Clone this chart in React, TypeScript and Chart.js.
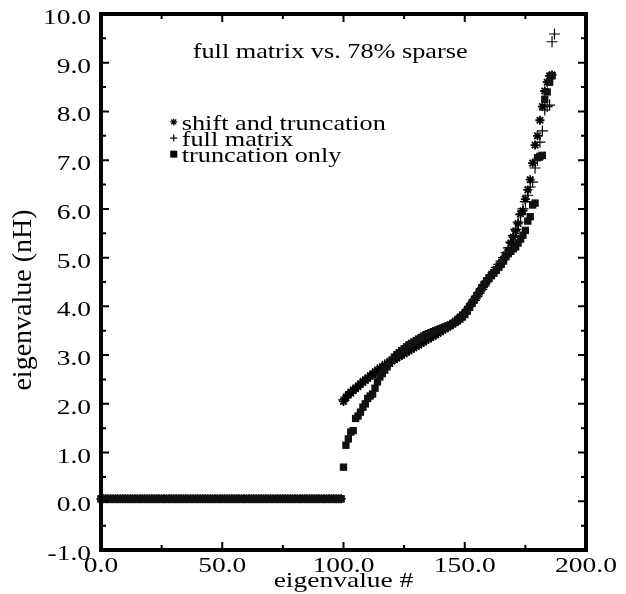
import React, { useEffect, useRef } from "react";
import { Chart, registerables } from "chart.js";
Chart.register(...registerables);

// ---------- DATA ----------
// eigenvalue index where each segment starts
const FLAT_START = 0;
const RISE_START = 100;

// shift and truncation: zero eigenvalues (index 0..99)
const shiftFlat = [
  0.05, 0.05, 0.05, 0.05, 0.05, 0.05, 0.05, 0.05, 0.05, 0.05, 0.05, 0.05, 0.05, 0.05, 0.05, 0.05, 0.05, 0.05, 0.05, 0.05,
  0.05, 0.05, 0.05, 0.05, 0.05, 0.05, 0.05, 0.05, 0.05, 0.05, 0.05, 0.05, 0.05, 0.05, 0.05, 0.05, 0.05, 0.05, 0.05, 0.05,
  0.05, 0.05, 0.05, 0.05, 0.05, 0.05, 0.05, 0.05, 0.05, 0.05, 0.05, 0.05, 0.05, 0.05, 0.05, 0.05, 0.05, 0.05, 0.05, 0.05,
  0.05, 0.05, 0.05, 0.05, 0.05, 0.05, 0.05, 0.05, 0.05, 0.05, 0.05, 0.05, 0.05, 0.05, 0.05, 0.05, 0.05, 0.05, 0.05, 0.05,
  0.05, 0.05, 0.05, 0.05, 0.05, 0.05, 0.05, 0.05, 0.05, 0.05, 0.05, 0.05, 0.05, 0.05, 0.05, 0.05, 0.05, 0.05, 0.05, 0.05,
];
// shift and truncation: index 100..186
const shiftRise = [
  2.05, 2.12, 2.18, 2.22, 2.27, 2.31, 2.35, 2.40, 2.44, 2.48,
  2.52, 2.56, 2.60, 2.64, 2.68, 2.72, 2.75, 2.78, 2.82, 2.85,
  2.88, 2.91, 2.94, 2.97, 3.00, 3.03, 3.06, 3.09, 3.12, 3.15,
  3.18, 3.21, 3.24, 3.27, 3.30, 3.33, 3.36, 3.39, 3.42, 3.45,
  3.48, 3.51, 3.54, 3.57, 3.60, 3.64, 3.68, 3.72, 3.76, 3.80,
  3.85, 3.92, 4.00, 4.08, 4.15, 4.22, 4.30, 4.38, 4.45, 4.52,
  4.58, 4.64, 4.70, 4.75, 4.80, 4.88, 4.96, 5.06, 5.15, 5.30,
  5.42, 5.55, 5.70, 5.90, 5.96, 6.20, 6.39, 6.60, 6.94, 7.31,
  7.50, 7.82, 8.10, 8.42, 8.60, 8.73, 8.75,
];

// truncation only: zero eigenvalues (index 0..99)
const truncFlat = [
  0.05, 0.05, 0.05, 0.05, 0.05, 0.05, 0.05, 0.05, 0.05, 0.05, 0.05, 0.05, 0.05, 0.05, 0.05, 0.05, 0.05, 0.05, 0.05, 0.05,
  0.05, 0.05, 0.05, 0.05, 0.05, 0.05, 0.05, 0.05, 0.05, 0.05, 0.05, 0.05, 0.05, 0.05, 0.05, 0.05, 0.05, 0.05, 0.05, 0.05,
  0.05, 0.05, 0.05, 0.05, 0.05, 0.05, 0.05, 0.05, 0.05, 0.05, 0.05, 0.05, 0.05, 0.05, 0.05, 0.05, 0.05, 0.05, 0.05, 0.05,
  0.05, 0.05, 0.05, 0.05, 0.05, 0.05, 0.05, 0.05, 0.05, 0.05, 0.05, 0.05, 0.05, 0.05, 0.05, 0.05, 0.05, 0.05, 0.05, 0.05,
  0.05, 0.05, 0.05, 0.05, 0.05, 0.05, 0.05, 0.05, 0.05, 0.05, 0.05, 0.05, 0.05, 0.05, 0.05, 0.05, 0.05, 0.05, 0.05, 0.05,
];
// truncation only: index 100..186
const truncRise = [
  0.70, 1.15, 1.28, 1.42, 1.45, 1.70, 1.75, 1.83, 1.93, 2.00,
  2.11, 2.16, 2.20, 2.32, 2.45, 2.55, 2.62, 2.69, 2.76, 2.83,
  2.90, 2.96, 3.01, 3.05, 3.09, 3.13, 3.17, 3.21, 3.24, 3.27,
  3.30, 3.33, 3.36, 3.39, 3.42, 3.44, 3.46, 3.48, 3.50, 3.52,
  3.54, 3.56, 3.58, 3.60, 3.62, 3.64, 3.67, 3.70, 3.74, 3.78,
  3.83, 3.90, 3.98, 4.06, 4.14, 4.22, 4.30, 4.38, 4.45, 4.52,
  4.58, 4.63, 4.68, 4.74, 4.80, 4.86, 4.93, 5.02, 5.08, 5.13,
  5.18, 5.22, 5.30, 5.38, 5.46, 5.56, 5.75, 5.84, 6.08, 6.12,
  7.05, 7.08, 7.10, 8.25, 8.40, 8.60, 8.73,
];

// full matrix: index 100..187
const fullRise = [
  2.08, 2.14, 2.20, 2.25, 2.29, 2.33, 2.37, 2.42, 2.46, 2.50,
  2.54, 2.58, 2.62, 2.66, 2.70, 2.73, 2.77, 2.80, 2.83, 2.86,
  2.89, 2.92, 2.95, 2.98, 3.01, 3.04, 3.07, 3.10, 3.13, 3.16,
  3.19, 3.22, 3.25, 3.28, 3.31, 3.34, 3.37, 3.40, 3.43, 3.46,
  3.49, 3.52, 3.55, 3.58, 3.62, 3.66, 3.70, 3.74, 3.78, 3.83,
  3.88, 3.94, 4.00, 4.06, 4.12, 4.20, 4.27, 4.35, 4.42, 4.50,
  4.58, 4.65, 4.72, 4.80, 4.86, 4.93, 5.00, 5.10, 5.20, 5.32,
  5.45, 5.58, 5.73, 5.88, 6.00, 6.15, 6.28, 6.45, 6.55, 6.84,
  7.00, 7.37, 7.60, 8.03, 8.10, 8.13, 9.43, 9.59,
];

const xTickValues = [0, 50, 100, 150, 200];
const xTickLabels = ["0.0", "50.0", "100.0", "150.0", "200.0"];
const xMinorTicks = [25, 75, 125, 175];
const yTickValues = [-1, 0, 1, 2, 3, 4, 5, 6, 7, 8, 9, 10];
const yTickLabels = ["-1.0", "0.0", "1.0", "2.0", "3.0", "4.0", "5.0", "6.0", "7.0", "8.0", "9.0", "10.0"];
const yMinorTicks = [-0.5, 0.5, 1.5, 2.5, 3.5, 4.5, 5.5, 6.5, 7.5, 8.5, 9.5];

const seriesNames = ["shift and truncation", "full matrix", "truncation only"];
const titleText = "full matrix vs. 78% sparse";
const xTitle = "eigenvalue #";
const yTitle = "eigenvalue (nH)";

// ---------- STYLE ----------
const FONT_FAMILY = '"Liberation Serif"';
const STRETCH = 1.25;

function toPoints(vals: number[], start: number) {
  return vals.map((y, i) => ({ x: start + i, y }));
}

function stretchedText(ctx: CanvasRenderingContext2D, text: string, x: number, y: number, align: string, size: number) {
  ctx.save();
  ctx.font = `${size}px ${FONT_FAMILY}`;
  ctx.fillStyle = "#000";
  ctx.textBaseline = "alphabetic";
  const w = ctx.measureText(text).width * STRETCH;
  let left = x;
  if (align === "center") left = x - w / 2;
  else if (align === "right") left = x - w;
  ctx.translate(left, y);
  ctx.scale(STRETCH, 1);
  ctx.textAlign = "left";
  ctx.fillText(text, 0, 0);
  ctx.restore();
}

function drawAsterisk(ctx: CanvasRenderingContext2D, x: number, y: number, r: number) {
  ctx.beginPath();
  for (let k = 0; k < 4; k++) {
    const a = (k * Math.PI) / 4;
    ctx.moveTo(x - Math.cos(a) * r, y - Math.sin(a) * r);
    ctx.lineTo(x + Math.cos(a) * r, y + Math.sin(a) * r);
  }
  ctx.stroke();
}

const framePlugin = {
  id: "frame",
  afterDraw(chart: any) {
    const ctx: CanvasRenderingContext2D = chart.ctx;
    const { left, right, top, bottom } = chart.chartArea;
    const xs = chart.scales.x;
    const ys = chart.scales.y;
    ctx.save();
    ctx.strokeStyle = "#000";
    // ticks
    ctx.lineWidth = 2;
    const MAJ = 8, MIN = 5;
    ctx.beginPath();
    yTickValues.forEach((v) => {
      const p = ys.getPixelForValue(v);
      ctx.moveTo(left, p); ctx.lineTo(left + MAJ, p);
      ctx.moveTo(right, p); ctx.lineTo(right - MAJ, p);
    });
    yMinorTicks.forEach((v) => {
      const p = ys.getPixelForValue(v);
      ctx.moveTo(left, p); ctx.lineTo(left + MIN, p);
      ctx.moveTo(right, p); ctx.lineTo(right - MIN, p);
    });
    xTickValues.forEach((v) => {
      const p = xs.getPixelForValue(v);
      ctx.moveTo(p, bottom); ctx.lineTo(p, bottom - MAJ);
      ctx.moveTo(p, top); ctx.lineTo(p, top + MAJ);
    });
    xMinorTicks.forEach((v) => {
      const p = xs.getPixelForValue(v);
      ctx.moveTo(p, bottom); ctx.lineTo(p, bottom - MIN);
      ctx.moveTo(p, top); ctx.lineTo(p, top + MIN);
    });
    ctx.stroke();
    // frame
    ctx.lineWidth = 4;
    ctx.strokeRect(left, top, right - left, bottom - top);

    // tick labels
    yTickValues.forEach((v, i) => {
      const p = ys.getPixelForValue(v);
      stretchedText(ctx, yTickLabels[i], left - 10, p + 10, "right", 22);
    });
    xTickValues.forEach((v, i) => {
      const p = xs.getPixelForValue(v);
      stretchedText(ctx, xTickLabels[i], p, bottom + 22, "center", 22);
    });
    // axis titles
    stretchedText(ctx, xTitle, xs.getPixelForValue(100), bottom + 37, "center", 22);
    ctx.save();
    ctx.translate(31, 300);
    ctx.rotate(-Math.PI / 2);
    ctx.font = `28px ${FONT_FAMILY}`;
    ctx.fillStyle = "#000";
    ctx.textAlign = "center";
    ctx.textBaseline = "alphabetic";
    ctx.fillText(yTitle, 0, 0);
    ctx.restore();

    // title
    stretchedText(ctx, titleText, xs.getPixelForValue(94.5), ys.getPixelForValue(9.1), "center", 21);

    // legend
    const mx = xs.getPixelForValue(30);
    const tx = xs.getPixelForValue(33.3);
    const rows = [7.62, 7.29, 6.96];
    ctx.strokeStyle = "#000";
    ctx.fillStyle = "#000";
    rows.forEach((rv, i) => {
      const base = ys.getPixelForValue(rv);
      const my = base - 8;
      ctx.lineWidth = 1.2;
      if (i === 0) {
        drawAsterisk(ctx, mx, my, 3.5);
      } else if (i === 1) {
        ctx.beginPath();
        ctx.moveTo(mx - 3.5, my); ctx.lineTo(mx + 3.5, my);
        ctx.moveTo(mx, my - 3.5); ctx.lineTo(mx, my + 3.5);
        ctx.stroke();
      } else {
        ctx.fillRect(mx - 3.5, my - 3.5, 7, 7);
      }
      stretchedText(ctx, seriesNames[i], tx, base, "left", 21);
    });
    ctx.restore();
  },
};

export default function App() {
  const ref = useRef<HTMLCanvasElement>(null);
  useEffect(() => {
    if (!ref.current) return;
    const chart = new Chart(ref.current, {
      type: "scatter",
      data: {
        datasets: [
          {
            label: seriesNames[2],
            data: [...toPoints(truncFlat, FLAT_START), ...toPoints(truncRise, RISE_START)],
            pointStyle: "rect",
            pointRadius: 5.2,
            pointBorderWidth: 0,
            backgroundColor: "#111",
            borderColor: "#111",
            showLine: false,
            clip: false,
          },
          {
            label: seriesNames[0],
            data: [...toPoints(shiftFlat, FLAT_START), ...toPoints(shiftRise, RISE_START)],
            pointStyle: "star",
            pointRadius: 4.5,
            pointBorderWidth: 1.8,
            backgroundColor: "#000",
            borderColor: "#000",
            showLine: false,
            clip: false,
          },
          {
            label: seriesNames[1],
            data: toPoints(fullRise, RISE_START),
            pointStyle: "cross",
            pointRadius: 5.5,
            pointBorderWidth: 1.2,
            backgroundColor: "#000",
            borderColor: "#000",
            showLine: false,
            clip: false,
          },
        ],
      },
      options: {
        animation: false,
        responsive: false,
        events: [],
        layout: { padding: { left: 101, top: 14, right: 40, bottom: 44 } },
        scales: {
          x: { type: "linear", min: 0, max: 200, display: false },
          y: { type: "linear", min: -1, max: 10, display: false },
        },
        plugins: {
          legend: { display: false },
          tooltip: { enabled: false },
          title: { display: false },
        },
      },
      plugins: [framePlugin],
    });
    let alive = true;
    const fonts: any = (document as any).fonts;
    if (fonts && fonts.load) {
      fonts.load(`21px ${FONT_FAMILY}`).then(() => { if (alive) chart.update(); }).catch(() => {});
    }
    return () => { alive = false; chart.destroy(); };
  }, []);
  return (
    <div style={{ position: "absolute", left: 0, top: 0, width: 626, height: 594, background: "#fff" }}>
      <canvas ref={ref} width={626} height={594} style={{ display: "block" }} />
    </div>
  );
}
